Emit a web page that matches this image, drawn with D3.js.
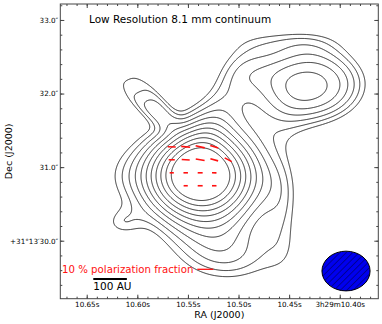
<!DOCTYPE html>
<html><head><meta charset="utf-8">
<script src="https://cdn.jsdelivr.net/npm/d3@7"></script>
<style>body{margin:0;background:#fff}text{font-family:"DejaVu Sans",sans-serif}</style>
</head><body>
<svg id="c" width="382" height="324"></svg>
<script>
// ---------- data ----------
const raTicks = [10.65, 10.60, 10.55, 10.50, 10.45, 10.40];
const raTickLabels = ["10.65s", "10.60s", "10.55s", "10.50s", "10.45s", "3h29m10.40s"];
const decTicks = [30, 31, 32, 33];
const decTickLabels = ["+31°13′30.0″", "31.0″", "32.0″", "33.0″"];

// emission components (RA: seconds of 3h29m, Dec: arcsec of +31°13′)
//                 main     NE       link     bridge   east-lft lowleft  south    eaststrp NWlobe   NE-top
const compRA    = [10.5371, 10.4254, 10.5163, 10.5024, 10.6290, 10.6191, 10.5064, 10.4521, 10.6032, 10.4541];
const compDec   = [30.879,  32.130,  31.980,  32.456,  30.879,  30.213,  29.683,  30.349,  32.102,  32.782];
const compAmp   = [1.02,    0.65,    0.20,    0.17,    0.09,    0.20,    0.37,    0.18,    0.36,    0.17];
const compMaj   = [0.710,   0.609,   0.535,   0.380,   0.408,   0.203,   0.697,   0.612,   0.447,   0.697]; // arcsec
const compMin   = [0.598,   0.476,   0.258,   0.299,   0.254,   0.163,   0.381,   0.203,   0.184,   0.163]; // arcsec
const compPA    = [90,      90,      -27,     90,      0,       90,      90,      0,       43,      90];    // deg E of N
const compShape = [2,       2.5,     2,       2,       2,       2,       2,       2,       4,       2];     // profile exponent

const contourLevels = [0.40, 0.45, 0.50, 0.55, 0.60, 0.65, 0.70, 0.75, 0.80, 0.85, 0.90];

// polarization vectors
const polRA   = [10.5660, 10.5522, 10.5379, 10.5240,
                 10.5660, 10.5522, 10.5379, 10.5240, 10.5102,
                 10.5660, 10.5522, 10.5379, 10.5240,
                 10.5522, 10.5379, 10.5240];
const polDec  = [31.276, 31.276, 31.276, 31.276,
                 31.100, 31.100, 31.100, 31.100, 31.100,
                 30.923, 30.923, 30.923, 30.923,
                 30.747, 30.747, 30.747];
const polFrac = [5.0, 5.6, 5.8, 5.2,
                 3.8, 5.0, 5.6, 5.0, 5.0,
                 2.6, 2.8, 3.1, 2.8,
                 2.6, 3.1, 2.8];
const polPA   = [88, 84, 77, 73,
                 90, 86, 80, 74, 62,
                 90, 90, 90, 88,
                 90, 90, 90];
const polRefFrac = 10;
const scaleBarAU = 100, distancePc = 235;
const beamMaj = 0.61, beamMin = 0.54, beamPA = 90;   // arcsec FWHM
const beamRA = 10.3938, beamDec = 29.588;

// ---------- layout ----------
const m = {l: 60.3, r: 378.3, t: 4, b: 298.7};
const svg = d3.select("#c");
const x = d3.scaleLinear().domain([10.6761, 10.3619]).range([m.l, m.r]);
const y = d3.scaleLinear().domain([33.217, 29.212]).range([m.t, m.b]);
const cosDec = Math.cos((31 + 13/60 + 31/3600) * Math.PI / 180);
const arcsecPerSec = 15 * cosDec;

// ---------- field ----------
const step = 1;
const nx = Math.ceil((m.r - m.l) / step), ny = Math.ceil((m.b - m.t) / step);
const vals = new Float64Array(nx * ny);
const comps = compRA.map((ra, i) => ({ra, dec: compDec[i], a: compAmp[i], mj: compMaj[i], mn: compMin[i], p: compShape[i],
  s: Math.sin(compPA[i]*Math.PI/180), c: Math.cos(compPA[i]*Math.PI/180)}));
for (let j = 0; j < ny; j++) {
  const dec = y.invert(m.t + (j + 0.5) * step);
  for (let i = 0; i < nx; i++) {
    const ra = x.invert(m.l + (i + 0.5) * step);
    let f = 0;
    for (const k of comps) {
      const e = (ra - k.ra) * arcsecPerSec, n = dec - k.dec;
      const a = e * k.s + n * k.c, b = e * k.c - n * k.s;
      const q = a*a/(2*k.mj*k.mj) + b*b/(2*k.mn*k.mn);
      f += k.a * Math.exp(-Math.pow(q, k.p / 2));
    }
    vals[j * nx + i] = f;
  }
}
const contours = d3.contours().size([nx, ny]).thresholds(contourLevels)(vals);
const proj = d3.geoTransform({point: function(px, py) { this.stream.point(m.l + px * step, m.t + py * step); }});
const path = d3.geoPath(proj);

const defs = svg.append("defs");
defs.append("clipPath").attr("id", "clip")
  .append("rect").attr("x", m.l).attr("y", m.t).attr("width", m.r - m.l).attr("height", m.b - m.t);

svg.append("g").attr("clip-path", "url(#clip)").selectAll("path").data(contours).join("path")
  .attr("d", path).attr("fill", "none").attr("stroke", "#1e1e1e").attr("stroke-width", 0.9);

// ---------- polarization vectors ----------
const pxPerPct = 1.6;
svg.append("g").selectAll("line").data(polRA).join("line")
  .each(function(ra, i) {
    const cx = x(ra), cy = y(polDec[i]);
    const L = polFrac[i] * pxPerPct / 2, t = polPA[i] * Math.PI / 180;
    const dx = -Math.sin(t) * L, dy = -Math.cos(t) * L;
    d3.select(this).attr("x1", cx - dx).attr("y1", cy - dy).attr("x2", cx + dx).attr("y2", cy + dy);
  })
  .attr("stroke", "#ff1010").attr("stroke-width", 1.6);

// ---------- axes ----------
const minorRA = d3.range(10.36, 10.68, 0.01).filter(v => v <= 10.6761 && v >= 10.3619);
const minorDec = d3.range(29.4, 33.21, 0.2).filter(v => v >= 29.212 && v <= 33.217);
const axc = "#444";
function styleAxis(g) { g.selectAll("path").remove(); g.selectAll("line").attr("stroke", axc); }
svg.append("g").attr("transform", `translate(0,${m.b})`).call(d3.axisBottom(x).tickValues(minorRA).tickSize(-2).tickFormat("")).call(styleAxis);
svg.append("g").attr("transform", `translate(0,${m.t})`).call(d3.axisTop(x).tickValues(minorRA).tickSize(-2).tickFormat("")).call(styleAxis);
svg.append("g").attr("transform", `translate(${m.l},0)`).call(d3.axisLeft(y).tickValues(minorDec).tickSize(-2).tickFormat("")).call(styleAxis);
svg.append("g").attr("transform", `translate(${m.r},0)`).call(d3.axisRight(y).tickValues(minorDec).tickSize(-2).tickFormat("")).call(styleAxis);

svg.append("g").attr("transform", `translate(0,${m.b})`)
  .call(d3.axisBottom(x).tickValues(raTicks).tickSize(-4).tickPadding(3).tickFormat((d, i) => raTickLabels[i]))
  .call(styleAxis).call(g => g.selectAll("text").attr("font-size", 7.2).attr("fill", "#000").attr("font-family", "DejaVu Sans"));
svg.append("g").attr("transform", `translate(0,${m.t})`).call(d3.axisTop(x).tickValues(raTicks).tickSize(-4).tickFormat("")).call(styleAxis);
svg.append("g").attr("transform", `translate(${m.l},0)`)
  .call(d3.axisLeft(y).tickValues(decTicks).tickSize(-4).tickPadding(2).tickFormat((d, i) => decTickLabels[i]))
  .call(styleAxis).call(g => g.selectAll("text").attr("font-size", 7.2).attr("fill", "#000").attr("font-family", "DejaVu Sans"));
svg.append("g").attr("transform", `translate(${m.r},0)`).call(d3.axisRight(y).tickValues(decTicks).tickSize(-4).tickFormat("")).call(styleAxis);

svg.append("rect").attr("x", m.l).attr("y", m.t).attr("width", m.r - m.l).attr("height", m.b - m.t)
  .attr("fill", "none").attr("stroke", axc).attr("stroke-width", 1);

svg.append("text").attr("x", (m.l + m.r) / 2).attr("y", 318).attr("text-anchor", "middle")
  .attr("font-size", 9.5).text("RA (J2000)");
svg.append("text").attr("transform", `translate(12,${(m.t + m.b) / 2}) rotate(-90)`).attr("text-anchor", "middle")
  .attr("font-size", 9.5).text("Dec (J2000)");

svg.append("text").attr("x", 89).attr("y", 22.7).attr("font-size", 10.5).text("Low Resolution 8.1 mm continuum");

// reference vector + label
svg.append("line").attr("x1", 197.3).attr("x2", 197.3 + polRefFrac * pxPerPct).attr("y1", 269.3).attr("y2", 269.3)
  .attr("stroke", "#ff1010").attr("stroke-width", 1.3);
svg.append("text").attr("x", 62).attr("y", 272.7).attr("font-size", 10.2).attr("fill", "#ff1010")
  .text(polRefFrac + " % polarization fraction");

// scale bar
const barStart = 10.6435;
const barEnd = barStart - (scaleBarAU / distancePc) / arcsecPerSec;
svg.append("line").attr("x1", x(barStart)).attr("x2", x(barEnd)).attr("y1", 279).attr("y2", 279)
  .attr("stroke", "#000").attr("stroke-width", 1.8);
svg.append("text").attr("x", x(barStart)).attr("y", 289.5).attr("font-size", 10.5).text(scaleBarAU + " AU");

// beam
const pat = defs.append("pattern").attr("id", "hatch").attr("patternUnits", "userSpaceOnUse")
  .attr("width", 4.5).attr("height", 4.5).attr("patternTransform", "rotate(45)");
pat.append("rect").attr("width", 4.5).attr("height", 4.5).attr("fill", "#0000ee");
pat.append("line").attr("x1", 0).attr("y1", 0).attr("x2", 0).attr("y2", 4.5).attr("stroke", "#000").attr("stroke-width", 0.7);
const bx = x(beamRA), by = y(beamDec);
const rxB = Math.abs(bx - x(beamRA - beamMaj / 2 / arcsecPerSec));
const ryB = Math.abs(by - y(beamDec + beamMin / 2));
svg.append("ellipse").attr("cx", bx).attr("cy", by).attr("rx", rxB).attr("ry", ryB)
  .attr("transform", `rotate(${beamPA - 90},${bx},${by})`)
  .attr("fill", "url(#hatch)").attr("stroke", "#000").attr("stroke-width", 1);
</script>
</body></html>
